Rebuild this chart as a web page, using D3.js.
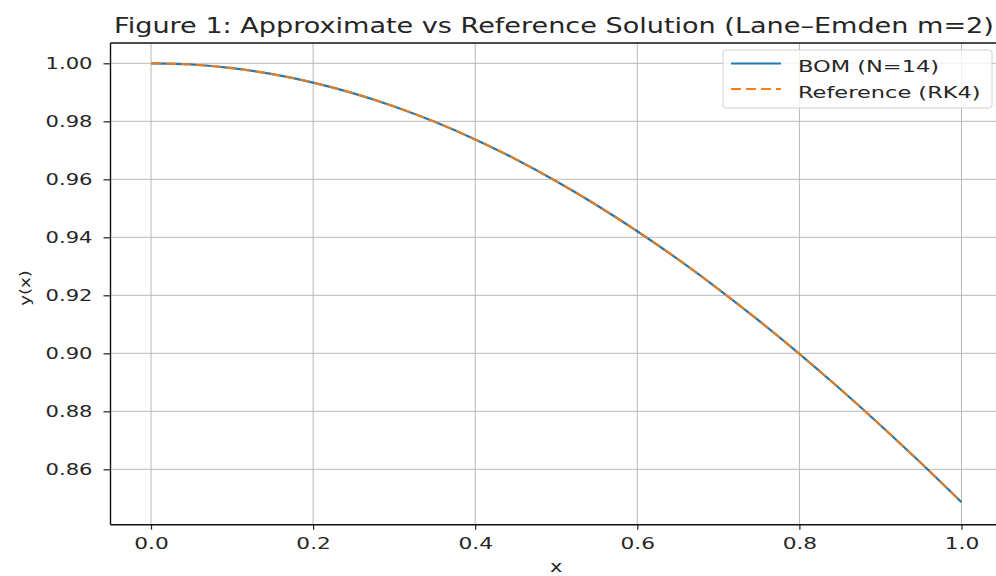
<!DOCTYPE html>
<html>
<head>
<meta charset="utf-8">
<script src="https://cdn.jsdelivr.net/npm/d3@7"></script>
<style>
  html, body { margin: 0; padding: 0; background: #fff; }
  svg { display: block; }
  text { font-family: "DejaVu Sans", sans-serif; fill: #262626; }
</style>
</head>
<body>
<svg id="chart" width="996" height="576"></svg>
<script>
// ---- data ----
const xValues = [0.00, 0.05, 0.10, 0.15, 0.20, 0.25, 0.30, 0.35, 0.40, 0.45, 0.50,
                 0.55, 0.60, 0.65, 0.70, 0.75, 0.80, 0.85, 0.90, 0.95, 1.00];
const bomValues = [1.000000, 0.999583, 0.998335, 0.996258, 0.993360, 0.989648, 0.985134,
                   0.979831, 0.973754, 0.966921, 0.959353, 0.951069, 0.942094, 0.932452,
                   0.922171, 0.911276, 0.899798, 0.887766, 0.875209, 0.862162, 0.848655];
const rk4Values = [1.000000, 0.999583, 0.998335, 0.996258, 0.993360, 0.989648, 0.985134,
                   0.979831, 0.973754, 0.966921, 0.959353, 0.951069, 0.942094, 0.932452,
                   0.922171, 0.911276, 0.899798, 0.887766, 0.875209, 0.862162, 0.848655];
const xTicks = [0.0, 0.2, 0.4, 0.6, 0.8, 1.0];
const xTickLabels = ["0.0", "0.2", "0.4", "0.6", "0.8", "1.0"];
const yTicks = [0.86, 0.88, 0.90, 0.92, 0.94, 0.96, 0.98, 1.00];
const yTickLabels = ["0.86", "0.88", "0.90", "0.92", "0.94", "0.96", "0.98", "1.00"];
const seriesNames = ["BOM (N=14)", "Reference (RK4)"];
const titleText = "Figure 1: Approximate vs Reference Solution (Lane\u2013Emden m=2)";

// ---- layout ----
const SX = 1.4; // horizontal stretch of the reference's text
const plot = { left: 110.5, top: 43, right: 1002, bottom: 524.7 };

const svg = d3.select("#chart");
const x = d3.scaleLinear().domain([-0.05, 1.05]).range([plot.left, plot.right]);
const y = d3.scaleLinear().domain([0.8409, 1.0070]).range([plot.bottom, plot.top]);

// grid
const grid = svg.append("g");
grid.selectAll("line.gx").data(xTicks).join("line")
  .attr("x1", d => x(d)).attr("x2", d => x(d))
  .attr("y1", plot.top).attr("y2", plot.bottom)
  .attr("stroke", "#b8b8b8").attr("stroke-width", 1);
grid.selectAll("line.gy").data(yTicks).join("line")
  .attr("x1", plot.left).attr("x2", plot.right)
  .attr("y1", d => y(d)).attr("y2", d => y(d))
  .attr("stroke", "#b8b8b8").attr("stroke-width", 1);

// lines
const lineGen = d3.line().x((d, i) => x(xValues[i])).y(d => y(d)).curve(d3.curveMonotoneX);
svg.append("path").datum(bomValues).attr("d", lineGen)
  .attr("fill", "none").attr("stroke", "#1f77b4").attr("stroke-width", 2.2);
svg.append("path").datum(rk4Values).attr("d", lineGen)
  .attr("fill", "none").attr("stroke", "#ff7f0e").attr("stroke-width", 2.2)
  .attr("stroke-dasharray", "10,5").attr("opacity", 0.85);

// axes
const xAxis = d3.axisBottom(x).tickValues(xTicks).tickFormat((d, i) => xTickLabels[i])
  .tickSize(5).tickPadding(8);
const gx = svg.append("g").attr("transform", `translate(0,${plot.bottom})`).call(xAxis);
gx.select(".domain").remove();
gx.selectAll("line").attr("stroke", "#222").attr("stroke-width", 1.2);
gx.selectAll("text").attr("font-size", 15.5).attr("fill", "#262626")
  .attr("font-family", "DejaVu Sans")
  .attr("transform", `scale(${SX},1)`);

const yAxis = d3.axisLeft(y).tickValues(yTicks).tickFormat((d, i) => yTickLabels[i])
  .tickSize(7).tickPadding(11);
const gy = svg.append("g").attr("transform", `translate(${plot.left},0)`).call(yAxis);
gy.select(".domain").remove();
gy.selectAll("line").attr("stroke", "#222").attr("stroke-width", 1.2);
gy.selectAll("text").attr("font-size", 15.5).attr("fill", "#262626")
  .attr("font-family", "DejaVu Sans")
  .attr("transform", `translate(-18,0) scale(1.36,1) translate(18,0)`);

// spines
[[plot.left, plot.top, plot.left, plot.bottom],
 [plot.left, plot.bottom, plot.right, plot.bottom],
 [plot.left, plot.top, plot.right, plot.top],
 [plot.right, plot.top, plot.right, plot.bottom]].forEach(s => {
  svg.append("line").attr("x1", s[0]).attr("y1", s[1]).attr("x2", s[2]).attr("y2", s[3])
    .attr("stroke", "#111").attr("stroke-width", 1.4);
});

// title
const cx = 554;
svg.append("text").attr("x", cx).attr("y", 33).attr("text-anchor", "middle")
  .attr("font-size", 21).text(titleText)
  .attr("transform", `translate(${cx},0) scale(1.29,1) translate(${-cx},0)`);

// axis labels
const xlx = (plot.left + plot.right) / 2;
svg.append("text").attr("x", xlx).attr("y", 572).attr("text-anchor", "middle")
  .attr("font-size", 15).text("x")
  .attr("transform", `translate(${xlx},0) scale(${SX},1) translate(${-xlx},0)`);
svg.append("text").attr("text-anchor", "middle").attr("font-size", 14)
  .attr("transform", `translate(30,288) rotate(-90) scale(1.3,1)`)
  .text("y(x)");

// legend
const leg = svg.append("g");
leg.append("rect").attr("x", 723).attr("y", 50).attr("width", 269).attr("height", 58)
  .attr("rx", 3).attr("fill", "#fff").attr("fill-opacity", 0.8)
  .attr("stroke", "#d0d0d0").attr("stroke-width", 1);
const legColors = ["#1f77b4", "#ff7f0e"];
const legDash = [null, "10,5"];
seriesNames.forEach((name, i) => {
  const ly = 63.5 + i * 25.5;
  leg.append("line").attr("x1", 731).attr("x2", 781).attr("y1", ly).attr("y2", ly)
    .attr("stroke", legColors[i]).attr("stroke-width", 2.2)
    .attr("stroke-dasharray", legDash[i]);
  leg.append("text").attr("x", 798).attr("y", ly + 9).attr("font-size", 15).text(name)
    .attr("transform", `translate(798,0) scale(1.5,1) translate(-798,0)`);
});
</script>
</body>
</html>
